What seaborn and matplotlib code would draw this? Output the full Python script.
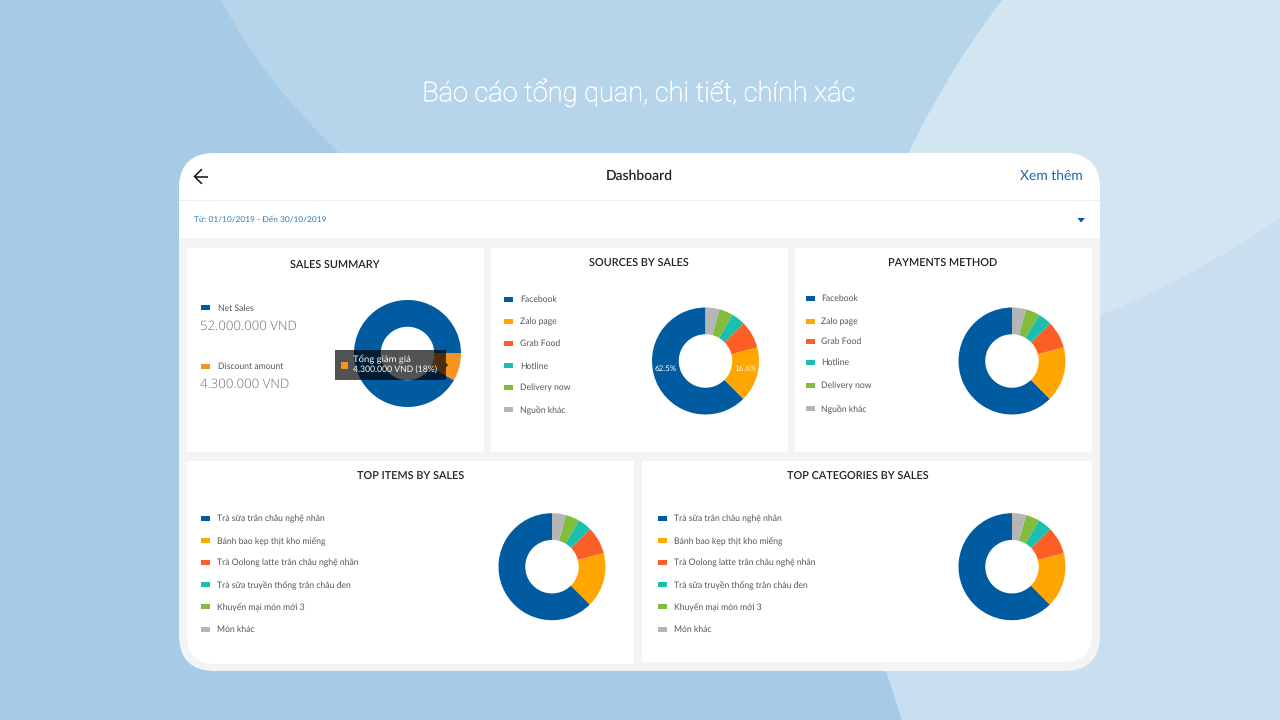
# plot.py

import matplotlib
matplotlib.use('Agg')
import matplotlib.pyplot as plt
import matplotlib.patheffects as pe
import seaborn as sns
from matplotlib.patches import FancyBboxPatch, PathPatch, Polygon, Rectangle
from matplotlib.path import Path

WIDTH, HEIGHT = 1280, 720
DPI_VALUE = 100

SOURCE_COLORS = ['#005ba1', '#ffa600', '#fb5f26', '#1abfad', '#82bc3c', '#b5b5b5']
SUMMARY_COLORS = ['#005ba1', '#f7941d']

# chart data
summary_labels = ['Net Sales', 'Discount amount']
summary_amounts = ['52.000.000 VND', '4.300.000 VND']
summary_values = [52.0, 4.7]

source_labels = ['Facebook', 'Zalo page', 'Grab Food', 'Hotline', 'Delivery now', 'Nguồn khác']
source_values = [62.5, 16.6, 8.3, 4.2, 4.2, 4.2]

payment_labels = ['Facebook', 'Zalo page', 'Grab Food', 'Hotline', 'Delivery now', 'Nguồn khác']
payment_values = [62.5, 16.6, 8.3, 4.2, 4.2, 4.2]

item_labels = ['Trà sữa trân châu nghệ nhân', 'Bánh bao kẹp thịt kho miếng',
               'Trà Oolong latte trân châu nghệ nhân', 'Trà sữa truyền thống trân châu đen',
               'Khuyến mại món mới 3', 'Món khác']
item_values = [62.5, 16.6, 8.3, 4.2, 4.2, 4.2]

category_labels = item_labels
category_values = [62.5, 16.6, 8.3, 4.2, 4.2, 4.2]

sns.set_theme(style='white')
plt.rcParams['font.family'] = ['Lato', 'Open Sans', 'DejaVu Sans']
plt.rcParams['text.hinting'] = 'none'


def curved_region(ax, start, ctrl, end, rest, color, zorder=1):
    """Fill a region bounded by one quadratic curve and some straight edges."""
    verts = [start, ctrl, end] + rest + [start]
    codes = [Path.MOVETO, Path.CURVE3, Path.CURVE3] + [Path.LINETO] * len(rest) + [Path.CLOSEPOLY]
    ax.add_patch(PathPatch(Path(verts, codes), fc=color, ec='none', zorder=zorder))


def draw_donut(fig, cx, cy, values, colors, start=90, r=53.5):
    """Draw a donut centred on a pixel position of the figure."""
    ax = fig.add_axes([(cx - r) / WIDTH, (HEIGHT - cy - r) / HEIGHT, 2 * r / WIDTH, 2 * r / HEIGHT],
                      zorder=3)
    ax.pie(values, colors=colors, startangle=start, radius=1,
           wedgeprops={'width': 0.5, 'linewidth': 0})
    ax.set_xlim(-1, 1)
    ax.set_ylim(-1, 1)
    ax.patch.set_alpha(0)
    return ax


def draw_legend(ax, x, ys, labels, colors, text_dx=19, size=6.25):
    for y, label, color in zip(ys, labels, colors):
        ax.add_patch(Rectangle((x, y - 2.5), 9, 5, fc=color, ec='none', zorder=4))
        ax.text(x + text_dx, y + 0.5, label, fontsize=size, color='#555555', va='center', zorder=4)


fig = plt.figure(figsize=(WIDTH / DPI_VALUE, HEIGHT / DPI_VALUE), dpi=DPI_VALUE)
bg = fig.add_axes([0, 0, 1, 1], zorder=1)
bg.set_xlim(0, WIDTH)
bg.set_ylim(HEIGHT, 0)
bg.axis('off')

# background shapes
bg.add_patch(Rectangle((0, 0), WIDTH, HEIGHT, fc='#a6cbe6', ec='none', zorder=0))
curved_region(bg, (221, 0), (265, 85), (345, 158), [(905, 158), (1002, 0)], '#b6d4ea')
curved_region(bg, (1002, 0), (945, 75), (905, 160), [(905, 400), (1280, 400), (1280, 0)], '#d4e5f2')
curved_region(bg, (1090, 320), (1190, 280), (1280, 218), [(1280, 720), (902, 720), (884, 665), (1000, 500)], '#c9deef')

# card with clipped contents
card = FancyBboxPatch((179, 153), 921, 518, boxstyle='round,pad=0,rounding_size=36',
                      fc='#f4f4f4', ec='none', zorder=2)
bg.add_patch(card)


def clipped_rect(x0, y0, x1, y1, color='white'):
    patch = Rectangle((x0, y0), x1 - x0, y1 - y0, fc=color, ec='none', zorder=2.5)
    bg.add_patch(patch)
    patch.set_clip_path(card)


clipped_rect(179, 153, 1100, 200)
clipped_rect(179, 200, 1100, 201, '#eeeeee')
clipped_rect(179, 201, 1100, 238)
clipped_rect(187, 248, 484, 452)
clipped_rect(491, 248, 788, 452)
clipped_rect(795, 248, 1092, 452)
# bottom panels follow the rounded corners of the card
bg.add_patch(FancyBboxPatch((187, 461), 447, 203, boxstyle='round,pad=0,rounding_size=28',
                            fc='white', ec='none', zorder=2.5))
clipped_rect(187, 461, 634, 630)
clipped_rect(230, 630, 634, 664)
bg.add_patch(FancyBboxPatch((642, 461), 450, 201, boxstyle='round,pad=0,rounding_size=28',
                            fc='white', ec='none', zorder=2.5))
clipped_rect(642, 461, 1092, 630)
clipped_rect(642, 630, 1000, 662)

# header
bg.plot([208, 194.5], [176.5, 176.5], color='#111111', lw=1.1, solid_capstyle='butt', zorder=4)
bg.plot([201.5, 194.5, 201.5], [169.5, 176.5, 183.5], color='#111111', lw=1.1, zorder=4)
bg.text(639, 175.5, 'Dashboard', fontsize=10, color='#222222', ha='center', va='center',
        fontweight='semibold', zorder=4)
bg.text(1051, 175.5, 'Xem thêm', fontsize=10, color='#1a66ad', ha='center', va='center', zorder=4)
bg.text(194, 219, 'Từ: 01/10/2019 - Đến 30/10/2019', fontsize=6.0, color='#2f78b5', va='center', zorder=4)
bg.add_patch(Polygon([(1077.5, 218), (1085, 218), (1081, 222.5)], fc='#0b55a0', ec='none', zorder=4))
headline = bg.text(639, 93, 'Báo cáo tổng quan, chi tiết, chính xác', fontsize=19.6, color='white',
                   ha='center', va='center', family=['Roboto', 'DejaVu Sans'], fontweight='light', zorder=4)
headline.set_path_effects([pe.withStroke(linewidth=0.35, foreground='white')])

# panel titles
for x, y, title in [(335, 265, 'SALES SUMMARY'), (639, 263, 'SOURCES BY SALES'),
                    (943, 263, 'PAYMENTS METHOD'), (410.5, 475.5, 'TOP ITEMS BY SALES'),
                    (858, 475.5, 'TOP CATEGORIES BY SALES')]:
    bg.text(x, y, title, fontsize=7.8, color='#222222', ha='center', va='center',
            fontweight='semibold', zorder=4)

# sales summary
draw_legend(bg, 201, [307.5, 366], summary_labels, SUMMARY_COLORS, text_dx=17)
bg.text(200, 326, summary_amounts[0], fontsize=9.5, color='#6f6f6f', va='center', fontweight='light',
        family=['Open Sans', 'DejaVu Sans'], zorder=4)
bg.text(200, 384.5, summary_amounts[1], fontsize=9.5, color='#6f6f6f', va='center', fontweight='light',
        family=['Open Sans', 'DejaVu Sans'], zorder=4)
draw_donut(fig, 407.5, 353.5, summary_values, SUMMARY_COLORS, start=0)

# the other donuts
draw_legend(bg, 504, [299, 321, 343, 365.5, 387.5, 409.5], source_labels, SOURCE_COLORS, text_dx=16)
draw_donut(fig, 705.5, 361, source_values, SOURCE_COLORS)

draw_legend(bg, 806, [298, 321, 341, 362, 385, 408], payment_labels, SOURCE_COLORS, text_dx=15)
draw_donut(fig, 1012, 361, payment_values, SOURCE_COLORS)

draw_legend(bg, 201, [518.5, 540.5, 562.5, 584.5, 606.5, 629], item_labels, SOURCE_COLORS, text_dx=16)
draw_donut(fig, 552, 566.7, item_values, SOURCE_COLORS)

draw_legend(bg, 657.5, [518.5, 540.5, 562.5, 584.5, 606.5, 629], category_labels, SOURCE_COLORS, text_dx=16)
draw_donut(fig, 1012, 566.7, category_values, SOURCE_COLORS)

# top layer with the tooltip and slice labels
top = fig.add_axes([0, 0, 1, 1], zorder=5)
top.set_xlim(0, WIDTH)
top.set_ylim(HEIGHT, 0)
top.axis('off')
top.patch.set_alpha(0)
top.add_patch(Rectangle((334.5, 350), 111, 30, fc='black', alpha=0.68, ec='none'))
top.add_patch(Polygon([(445.5, 362.5), (448, 365), (445.5, 367.5)], fc='#222222', ec='none'))
top.add_patch(Rectangle((341, 362), 7, 7, fc='#f7941d', ec='none'))
top.text(353, 359, 'Tổng giảm giá', fontsize=6.8, color='white', va='center')
top.text(353, 370.5, '4.300.000 VND (18%)', fontsize=6.2, color='white', va='center')
top.text(666, 369, f'{source_values[0]}%', fontsize=5.8, color='white', ha='center', va='center')
top.text(745, 369, f'{source_values[1]}%', fontsize=5.8, color='#fff3d6', ha='center', va='center')

fig.savefig('out.png', dpi=DPI_VALUE)
